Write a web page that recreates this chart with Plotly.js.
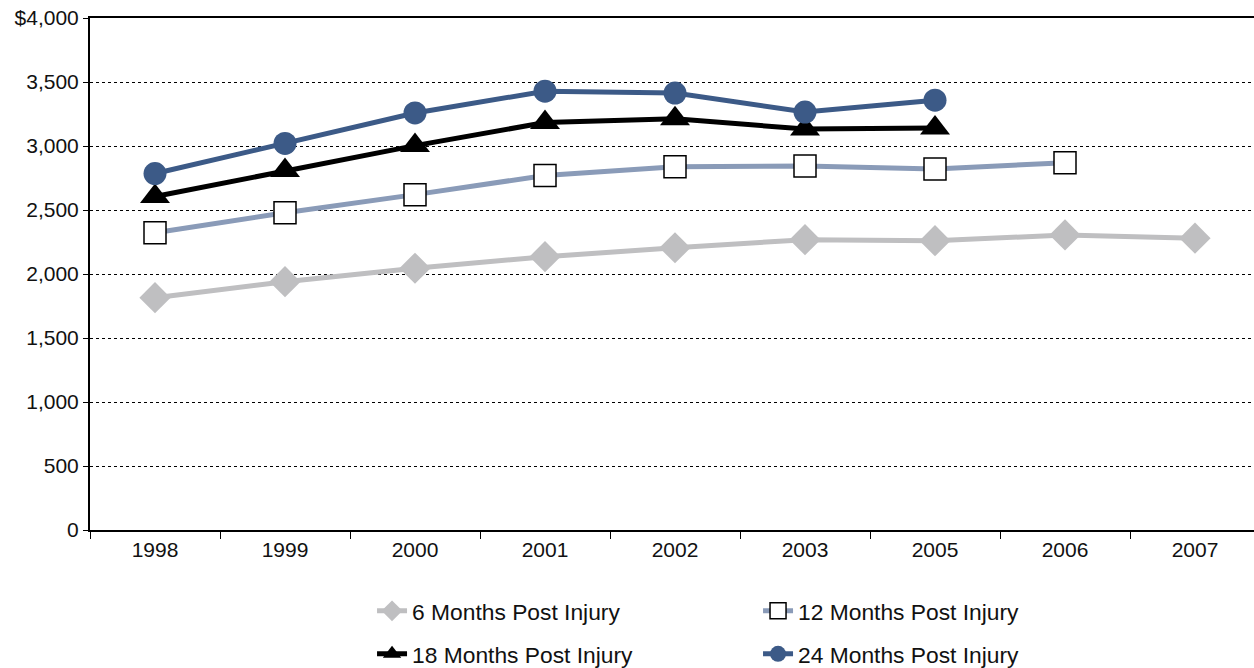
<!DOCTYPE html>
<html>
<head>
<meta charset="utf-8">
<script src="https://cdn.plot.ly/plotly-3.0.1.min.js"></script>
<style>
  html, body { margin: 0; padding: 0; overflow: hidden; background: #fff; }
  #chart { width: 1262px; height: 668px; }
</style>
</head>
<body>
<div id="chart"></div>
<script>
// Survey years shown on the category axis
const years = ['1998', '1999', '2000', '2001', '2002', '2003', '2005', '2006', '2007'];

// Average monthly amounts (dollars) by time since injury
const sixMonths = [1815, 1940, 2045, 2135, 2205, 2268, 2260, 2305, 2280];
const twelveMonths = [2322, 2478, 2620, 2770, 2838, 2843, 2820, 2870, null];
const eighteenMonths = [2605, 2808, 3003, 3183, 3213, 3132, 3140, null, null];
const twentyFourMonths = [2785, 3020, 3258, 3428, 3414, 3265, 3358, null, null];

// Value axis ticks
const yTickVals = [0, 500, 1000, 1500, 2000, 2500, 3000, 3500, 4000];
const yTickText = ['0', '500', '1,000', '1,500', '2,000', '2,500', '3,000', '3,500', '$4,000'];

const traces = [
  {
    name: '6 Months Post Injury', x: years, y: sixMonths,
    type: 'scatter', mode: 'lines+markers', legend: 'legend',
    line: { color: '#bfbfc1', width: 5 },
    marker: { symbol: 'diamond', size: 24, color: '#bfbfc1' }
  },
  {
    name: '12 Months Post Injury', x: years, y: twelveMonths,
    type: 'scatter', mode: 'lines+markers', legend: 'legend',
    line: { color: '#8a9bb8', width: 5 },
    marker: { symbol: 'square', size: 22, color: '#ffffff', line: { color: '#000000', width: 1.5 } }
  },
  {
    name: '18 Months Post Injury', x: years, y: eighteenMonths,
    type: 'scatter', mode: 'lines+markers', legend: 'legend2',
    line: { color: '#000000', width: 5 },
    marker: { symbol: 'triangle-up', size: 26, color: '#000000' }
  },
  {
    name: '24 Months Post Injury', x: years, y: twentyFourMonths,
    type: 'scatter', mode: 'lines+markers', legend: 'legend2',
    line: { color: '#3c5a87', width: 5 },
    marker: { symbol: 'circle', size: 23, color: '#3c5a87' }
  }
];

// Two one-row legends stacked under the plot
const legendCommon = {
  orientation: 'h',
  xref: 'container',
  yref: 'container',
  xanchor: 'left',
  yanchor: 'middle',
  x: 0.2948,
  entrywidth: 341,
  entrywidthmode: 'pixels',
  font: { family: 'Liberation Sans, Arial, sans-serif', size: 22.8, color: '#111' },
  bgcolor: 'rgba(0,0,0,0)',
  traceorder: 'normal'
};

const layout = {
  width: 1262,
  height: 668,
  margin: { l: 90, r: 2, t: 18, b: 138 },
  paper_bgcolor: '#ffffff',
  plot_bgcolor: '#ffffff',
  font: { family: 'Liberation Sans, Arial, sans-serif', size: 21, color: '#111' },
  showlegend: true,
  legend: Object.assign({}, legendCommon, { y: 0.0853 }),
  legend2: Object.assign({}, legendCommon, { y: 0.021 }),
  xaxis: {
    type: 'category',
    categoryorder: 'array',
    categoryarray: years,
    range: [-0.5, years.length - 0.5],
    automargin: false,
    showline: true,
    linecolor: '#000',
    linewidth: 2,
    mirror: true,
    ticks: 'outside',
    tickson: 'boundaries',
    ticklen: 7,
    tickwidth: 1,
    tickcolor: '#000',
    showgrid: false,
    zeroline: false,
    fixedrange: true
  },
  yaxis: {
    range: [0, 4000],
    tickvals: yTickVals,
    ticktext: yTickText,
    automargin: false,
    showline: true,
    linecolor: '#000',
    linewidth: 2,
    mirror: true,
    ticks: 'outside',
    ticklen: 5,
    tickwidth: 1,
    tickcolor: '#000',
    showgrid: true,
    gridcolor: '#000',
    gridwidth: 1,
    griddash: 'dot',
    zeroline: false,
    fixedrange: true
  }
};

Plotly.newPlot('chart', traces, layout, { displayModeBar: false, staticPlot: true });
</script>
</body>
</html>
